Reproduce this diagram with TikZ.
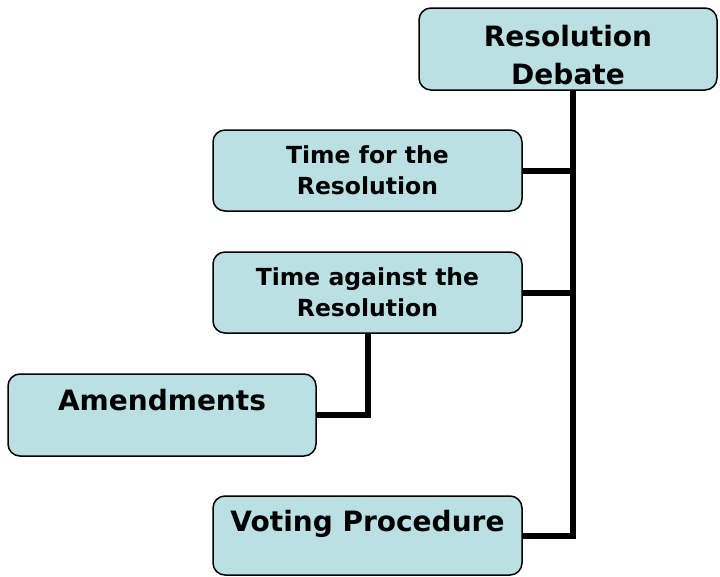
\documentclass[tikz,border=0pt]{standalone}
\usepackage{fontspec}
\setmainfont{DejaVu Sans}
\usetikzlibrary{positioning}

\definecolor{boxfill}{RGB}{186,224,227}

\begin{document}
\begin{tikzpicture}[x=1pt,y=-1pt,
  box/.style={draw=black, line width=1.5pt, fill=boxfill, rounded corners=12pt,
    align=center, inner sep=0pt, minimum width=309pt, minimum height=81pt,
    font=\bfseries\fontsize{23.5}{31}\selectfont},
  bigbox/.style={box, font=\bfseries\fontsize{28}{35}\selectfont},
  link/.style={line width=6pt, line cap=butt}]

\useasboundingbox (0,0) rectangle (720,576);

\node[bigbox, minimum width=298pt, minimum height=82pt] (debate) at (568,49)
  {\strut\\[-26pt]Resolution\\[3pt]Debate};
\node[box] (forres) at (367.5,170.5) {Time for the\\Resolution};
\node[box] (against) at (367.5,292.5) {Time against the\\Resolution};
\node[bigbox, minimum width=308pt, minimum height=82pt] (amend) at (162,415)
  {Amendments\\[-16pt]\strut};
\node[bigbox, minimum height=79pt] (voting) at (367.5,535.5)
  {Voting Procedure\\[-16pt]\strut};

\coordinate (trunk) at (573,90.75);

\draw[link] (trunk) |- (voting.east);
\draw[link] (forres.east) -- (forres.east -| trunk);
\draw[link] (against.east) -- (against.east -| trunk);
\draw[link] (against.south) |- (amend.east);

\end{tikzpicture}
\end{document}
